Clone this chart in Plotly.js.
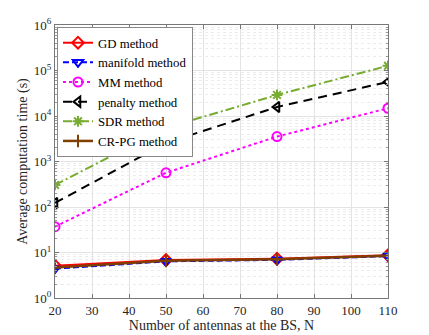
<!DOCTYPE html>
<html>
<head>
<meta charset="utf-8">
<script src="https://cdn.plot.ly/plotly-3.0.1.min.js"></script>
<style>
  html, body { margin: 0; padding: 0; background: #fff; }
  #chart { width: 429px; height: 335px; }
</style>
</head>
<body>
<div id="chart"></div>
<script>
// antenna counts N
const antennas = [20, 50, 80, 110];

// average computation time (s)
const gdTime = [5.1, 6.8, 7.3, 8.7];
const manifoldTime = [4.4, 6.4, 6.9, 8.3];
const mmTime = [37, 565, 3530, 14800];
const penaltyTime = [123, 2550, 15800, 56000];
const sdrTime = [305, 5500, 29000, 127000];
const crpgTime = [4.7, 6.6, 7.1, 8.5];

const names = ["GD method", "manifold method", "MM method", "penalty method", "SDR method", "CR-PG method"];
const yTickVals = [1, 10, 100, 1000, 10000, 100000, 1000000];
const yTickText = ["10<sup>0</sup>", "10<sup>1</sup>", "10<sup>2</sup>", "10<sup>3</sup>", "10<sup>4</sup>", "10<sup>5</sup>", "10<sup>6</sup>"];

const serif = "Liberation Serif";

function series(y, name, color, dash, symbol, width) {
  return {
    x: antennas, y: y, name: name, type: "scatter", mode: "lines+markers",
    line: { color: color, dash: dash, width: width },
    marker: { symbol: symbol, size: 9, color: color, line: { color: color, width: 2 } }
  };
}

const traces = [
  series(gdTime, names[0], "#ff0000", "solid", "diamond-open", 2),
  series(manifoldTime, names[1], "#0000ff", "6px,3px", "triangle-down-open", 2),
  series(mmTime, names[2], "#ff00ff", "dot", "circle-open", 2),
  series(penaltyTime, names[3], "#000000", "9px,6px", "triangle-left-open", 2),
  series(sdrTime, names[4], "#77ac30", "9px,3px,2px,3px", "asterisk-open", 2),
  series(crpgTime, names[5], "#7e3f00", "solid", "cross-thin-open", 2.5)
];

const layout = {
  width: 429, height: 335,
  margin: { l: 55, r: 41, t: 25, b: 37 },
  paper_bgcolor: "#fff", plot_bgcolor: "#fff",
  font: { family: serif, size: 13, color: "#262626" },
  showlegend: true,
  legend: {
    x: 0.006, y: 0.993, xanchor: "left", yanchor: "top",
    bgcolor: "#fff", bordercolor: "#888", borderwidth: 1,
    font: { family: serif, size: 12.8, color: "#000" }, itemwidth: 30, tracegroupgap: 0
  },
  xaxis: {
    range: [20, 110], dtick: 10, tick0: 20,
    title: { text: "Number of antennas at the BS, N", standoff: 2, font: { family: serif, size: 14 } },
    tickfont: { family: serif, size: 13 },
    showgrid: true, gridcolor: "#e3e3e3", zeroline: false,
    ticks: "inside", ticklen: 4, tickcolor: "#777",
    showline: true, linecolor: "#777", mirror: "allticks"
  },
  yaxis: {
    type: "log", range: [0, 6],
    tickvals: yTickVals, ticktext: yTickText,
    title: { text: "Average computation time (s)", standoff: 2, font: { family: serif, size: 14 } },
    tickfont: { family: serif, size: 13 },
    showgrid: true, gridcolor: "#e3e3e3", zeroline: false,
    ticks: "inside", ticklen: 4, tickcolor: "#777",
    showline: true, linecolor: "#777", mirror: "allticks",
    minor: { dtick: "D1", showgrid: true, gridcolor: "#ececec", griddash: "dot", ticks: "inside", ticklen: 2, tickcolor: "#999" }
  }
};

Plotly.newPlot("chart", traces, layout, { staticPlot: true, displayModeBar: false });
</script>
</body>
</html>
